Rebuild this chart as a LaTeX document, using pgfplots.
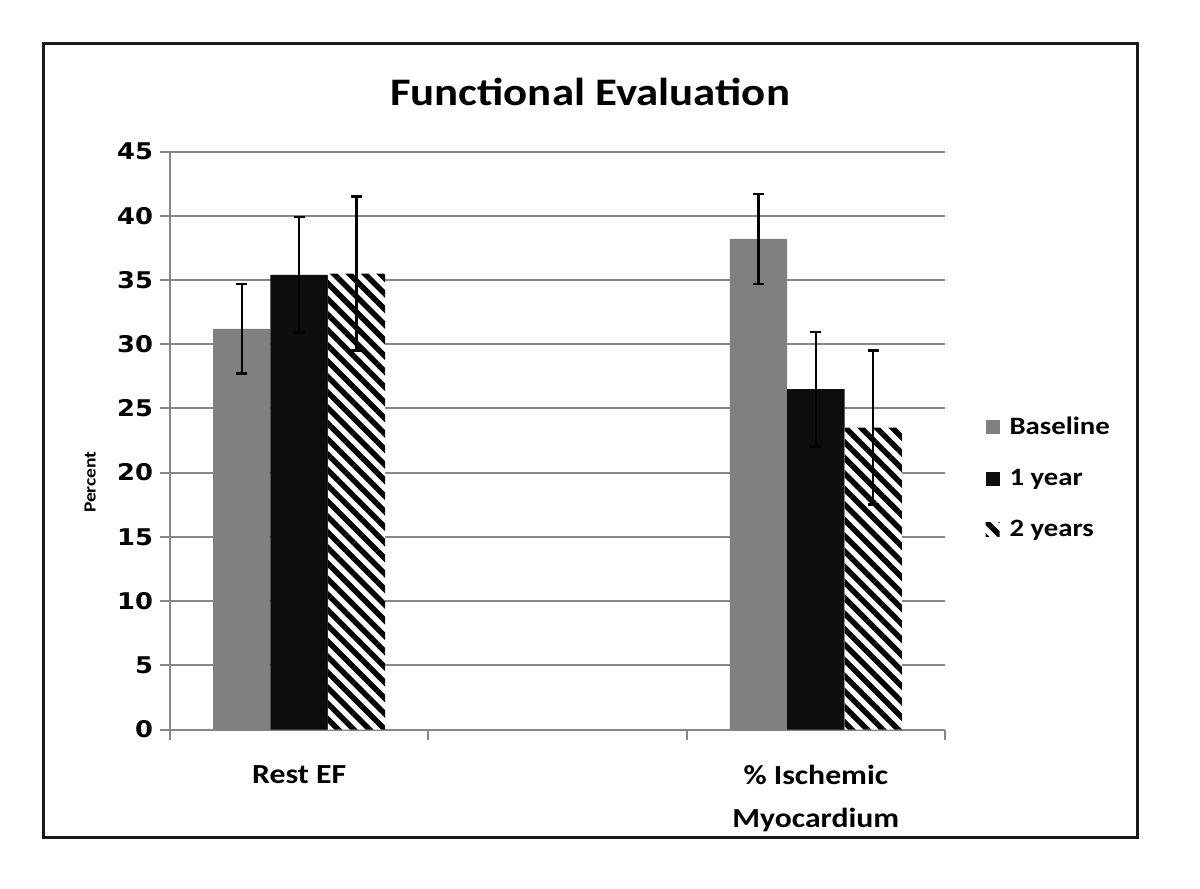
\documentclass[border=0pt]{standalone}
\usepackage{pgfplots}
\pgfplotsset{compat=1.18}
\usetikzlibrary{patterns.meta}
\usepackage{fontspec}
\setmainfont{Carlito}[FakeStretch=1.15]
\newfontfamily\numfont{DejaVu Sans}[FakeStretch=1.12]
\definecolor{gridgray}{HTML}{878787}
\definecolor{basegray}{HTML}{808080}
\definecolor{nearblack}{HTML}{0D0D0D}
\pgfplotsset{
  mylegend/.style={legend image code/.code={\draw[##1,draw=none] (0pt,-3.5pt) rectangle (7pt,3.5pt); \path (10pt,0pt);}},
  myerr/.style={error bars/.cd, y dir=both, y explicit,
    error bar style={line width=1.25pt,draw=black},
    error mark options={rotate=90,line width=1.25pt,mark size=2.75pt,draw=black}},
}
\begin{document}
\begin{tikzpicture}
\useasboundingbox (-85pt,-79.75pt) rectangle (515pt,364.75pt);
\fill[white] (-85pt,-79.75pt) rectangle (515pt,364.75pt);
\draw[line width=1.5pt, black!90] (-63pt,-53.75pt) rectangle (483.5pt,342.75pt);
\begin{axis}[
  at={(0pt,0pt)}, anchor=south west,
  scale only axis, width=387.5pt, height=289pt,
  xmin=-0.5, xmax=2.5, ymin=0, ymax=45,
  axis lines*=left,
  axis line style={gridgray, line width=1pt},
  ytick={0,5,...,45},
  ymajorgrids, grid style={gridgray, line width=1pt},
  xtick={0,2},
  xticklabels={Rest EF, {\% Ischemic\\Myocardium}},
  minor xtick={-0.5,0.5,1.5,2.5},
  tick align=outside,
  major tick length=5pt, minor tick length=5pt,
  tick style={gridgray, line width=1pt},
  major x tick style={draw=none},
  /pgf/number format/assume math mode=true,
  yticklabel style={font=\numfont\bfseries\fontsize{11.5}{13}\selectfont},
  xticklabel style={font=\bfseries\fontsize{13.8}{21.5}\selectfont, align=center, yshift=-9.5pt},
  title={Functional Evaluation},
  title style={at={(axis description cs:0.542,1.082)}, anchor=center, font=\bfseries\fontsize{19.5}{23}\selectfont},
  ylabel={Percent},
  ylabel style={at={(axis description cs:-0.103,0.428)}, anchor=center, font=\bfseries\fontsize{8.5}{10}\selectfont},
  legend style={at={(axis description cs:1.044,0.435)}, anchor=west, draw=none, fill=none,
    row sep=11.75pt, font=\bfseries\fontsize{12.5}{15}\selectfont},
  legend cell align=left,
]
\addplot[ybar, bar width=0.222, bar shift=0, fill=basegray, draw=none, mylegend, myerr]
  coordinates {(-0.222,31.2) +- (0,3.5) (1.778,38.2) +- (0,3.5)};
\addlegendentry{Baseline}
\addplot[ybar, bar width=0.222, bar shift=0, fill=nearblack, draw=none, mylegend, myerr]
  coordinates {(0,35.4) +- (0,4.5) (2,26.5) +- (0,4.45)};
\addlegendentry{1 year}
\addplot[ybar, bar width=0.222, bar shift=0, fill=white, draw=none,
  postaction={pattern={Lines[angle=-45,distance=5.5pt,line width=2.75pt]}, pattern color=black},
  mylegend, myerr]
  coordinates {(0.222,35.5) +- (0,6.0) (2.222,23.5) +- (0,6.0)};
\addlegendentry{2 years}
\end{axis}
\end{tikzpicture}
\end{document}
